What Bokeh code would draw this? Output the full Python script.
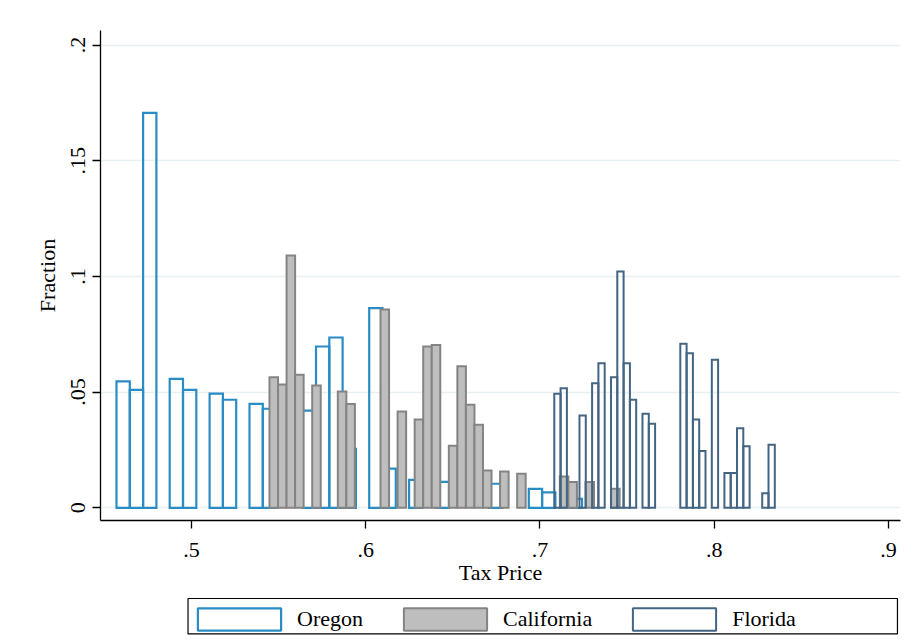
from bokeh.plotting import figure
from bokeh.layouts import column
from bokeh.models import (FixedTicker, Legend, LegendItem, Range1d,
                          ColumnDataSource, BoxAnnotation)
from bokeh.embed import file_html
from bokeh.resources import INLINE

# ---- data ----
oregon_width = 0.007633
oregon_left = [0.45696, 0.46459, 0.47223, 0.48749, 0.49513, 0.51039, 0.51802,
               0.53329, 0.54092, 0.56382, 0.57146, 0.57909, 0.58672, 0.60199,
               0.60962, 0.62489, 0.64015, 0.67068, 0.69358, 0.70121, 0.71648]
oregon_frac = [0.0546, 0.0510, 0.1707, 0.0557, 0.0510, 0.0493, 0.0467,
               0.0449, 0.0428, 0.0420, 0.0697, 0.0736, 0.0255, 0.0863,
               0.0169, 0.0121, 0.0112, 0.0104, 0.0082, 0.0067, 0.0039]

california_width = 0.004901
california_left = [0.54476, 0.54966, 0.55456, 0.55946, 0.56927, 0.58397, 0.58887,
                   0.60847, 0.61828, 0.62808, 0.63298, 0.63788, 0.64768, 0.65258,
                   0.65748, 0.66238, 0.66729, 0.67709, 0.68689, 0.71139, 0.71630,
                   0.72610, 0.74080]
california_frac = [0.0564, 0.0533, 0.1090, 0.0575, 0.0529, 0.0503, 0.0449,
                   0.0857, 0.0416, 0.0382, 0.0697, 0.0704, 0.0268, 0.0612,
                   0.0445, 0.0359, 0.0161, 0.0157, 0.0147, 0.0135, 0.0111,
                   0.0111, 0.0082]

florida_width = 0.003616
florida_left = [0.70820, 0.71182, 0.72266, 0.72990, 0.73351, 0.74074, 0.74436,
                0.74798, 0.75159, 0.75882, 0.76244, 0.78052, 0.78414, 0.78775,
                0.79137, 0.79860, 0.80583, 0.80945, 0.81306, 0.81668, 0.82753,
                0.83114]
florida_frac = [0.0493, 0.0517, 0.0399, 0.0538, 0.0625, 0.0564, 0.1021,
                0.0625, 0.0467, 0.0406, 0.0363, 0.0709, 0.0668, 0.0382,
                0.0245, 0.0640, 0.0150, 0.0150, 0.0344, 0.0266, 0.0063,
                0.0272]

series_names = ["Oregon", "California", "Florida"]

x_ticks = [0.5, 0.6, 0.7, 0.8, 0.9]
x_tick_labels = [".5", ".6", ".7", ".8", ".9"]
y_ticks = [0, 0.05, 0.1, 0.15, 0.2]
y_tick_labels = ["0", ".05", ".1", ".15", ".2"]

FONT = "Liberation Serif"
STYLES = [dict(fill_color=None, line_color="#2a8cc4", line_width=2.2),
          dict(fill_color="#bebebe", line_color="#848484", line_width=2),
          dict(fill_color=None, line_color="#436583", line_width=2)]

p = figure(width=910, height=590, output_backend="svg", toolbar_location=None,
           x_range=Range1d(0.44778, 0.90689), y_range=Range1d(-0.00549, 0.20627),
           min_border_left=100, min_border_right=10, min_border_top=30,
           min_border_bottom=70)
p.outline_line_color = None
p.background_fill_color = "white"
p.border_fill_color = "white"


def src(left, frac, w):
    return ColumnDataSource(dict(left=left, right=[l + w for l in left],
                                 top=frac, bottom=[0] * len(frac)))


data = [(oregon_left, oregon_frac, oregon_width),
        (california_left, california_frac, california_width),
        (florida_left, florida_frac, florida_width)]
for (lft, frc, w), st in zip(data, STYLES):
    p.quad(left="left", right="right", top="top", bottom="bottom",
           source=src(lft, frc, w), line_join="miter", **st)

# grid
p.xgrid.visible = False
p.ygrid.ticker = FixedTicker(ticks=y_ticks)
p.ygrid.grid_line_color = "#e8f0f2"
p.ygrid.grid_line_width = 1.5

# axes
for ax in (p.xaxis[0], p.yaxis[0]):
    ax.axis_line_color = "black"
    ax.axis_line_width = 1.3
    ax.major_tick_line_color = "black"
    ax.major_tick_line_width = 1.3
    ax.major_tick_out = 8
    ax.major_tick_in = 0
    ax.minor_tick_out = 0
    ax.minor_tick_in = 0
    ax.major_label_text_font = FONT
    ax.major_label_text_font_size = "22px"
    ax.major_label_text_color = "black"
    ax.axis_label_text_font = FONT
    ax.axis_label_text_font_size = "22px"
    ax.axis_label_text_font_style = "normal"
    ax.axis_label_text_color = "black"

p.xaxis.ticker = FixedTicker(ticks=x_ticks)
p.xaxis.major_label_overrides = dict(zip(x_ticks, x_tick_labels))
p.xaxis.axis_label = "Tax Price"
p.xaxis.major_label_standoff = 14
p.xaxis.axis_label_standoff = 0

p.yaxis.ticker = FixedTicker(ticks=y_ticks)
p.yaxis.major_label_overrides = dict(zip(y_ticks, y_tick_labels))
p.yaxis.major_label_orientation = "vertical"
p.yaxis.axis_label = "Fraction"
p.yaxis.major_label_standoff = 7
p.yaxis.axis_label_standoff = 9

# ---- legend strip (separate figure under the plot; frame aligned with p) ----
lg = figure(width=910, height=52, output_backend="svg", toolbar_location=None,
            x_axis_type=None, y_axis_type=None,
            x_range=Range1d(0, 1), y_range=Range1d(0, 1),
            min_border_left=100, min_border_right=10, min_border_top=0,
            min_border_bottom=0)
lg.outline_line_color = None
lg.xgrid.visible = False
lg.ygrid.visible = False
items = []
for name, st in zip(series_names, STYLES):
    # swatch renderer kept outside the visible range; only its legend glyph shows
    r = lg.quad(left=[5], right=[6], top=[5], bottom=[4], **st)
    items.append(LegendItem(label=name, renderers=[r]))
legend = Legend(items=items, orientation="horizontal", location=(87, 9),
                glyph_width=104, glyph_height=28, label_standoff=6, spacing=30,
                padding=8, margin=0,
                label_text_font=FONT, label_text_font_size="22px",
                label_text_color="black",
                border_line_color=None, background_fill_alpha=0)
lg.add_layout(legend, "center")
# legend frame (Stata draws a wide box around the keys)
lg.add_layout(BoxAnnotation(left=0.1094, right=0.9962, bottom=0.165, top=0.846,
                            fill_color=None, line_color="black", line_width=1.2,
                            line_alpha=1))

layout = column(p, lg, spacing=0)
open("out.html", "w").write(file_html(layout, INLINE))
